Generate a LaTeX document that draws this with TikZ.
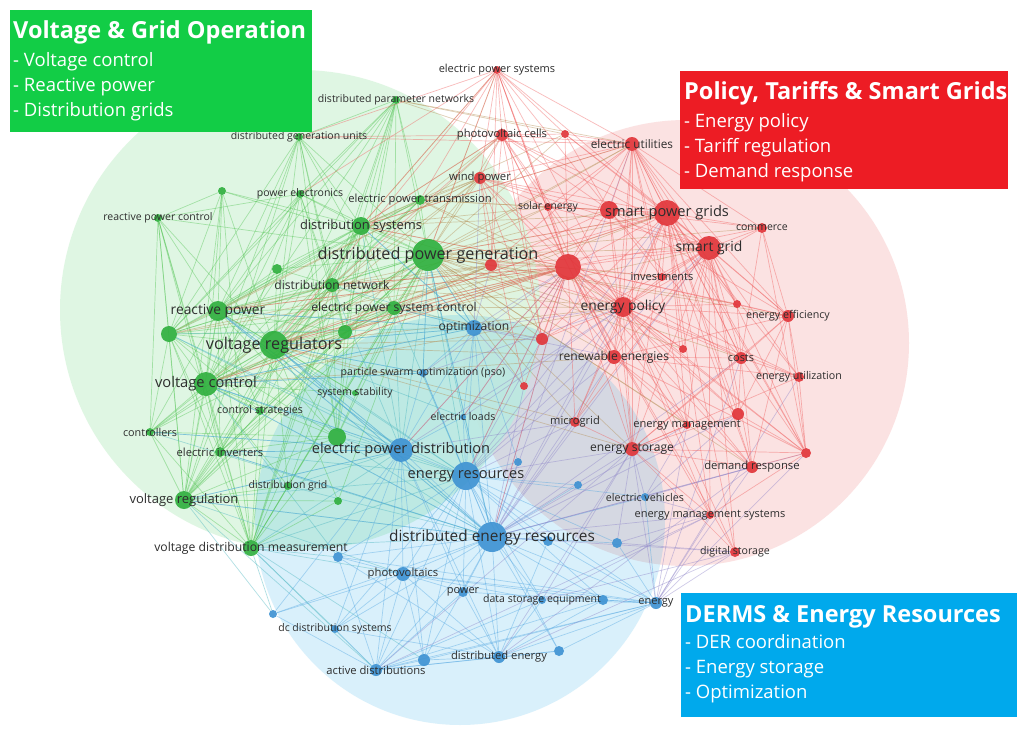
\documentclass[tikz,border=0pt]{standalone}
\usepackage{fontspec}
\setmainfont{Open Sans}
\pgfdeclarelayer{blobs}
\pgfdeclarelayer{edges}
\pgfdeclarelayer{labels}
\pgfdeclarelayer{boxes}
\pgfsetlayers{blobs,edges,main,labels,boxes}
\definecolor{gblobl}{RGB}{220,246,224}
\definecolor{rblob}{RGB}{230,50,50}
\definecolor{bblob}{RGB}{0,160,230}
\definecolor{gdotc}{RGB}{45,175,60}
\definecolor{rdotc}{RGB}{225,50,55}
\definecolor{bdotc}{RGB}{60,145,210}
\definecolor{gedge}{RGB}{80,195,80}
\definecolor{redge}{RGB}{240,90,90}
\definecolor{bedge}{RGB}{80,165,225}
\definecolor{oedge}{RGB}{180,140,80}
\definecolor{tedge}{RGB}{70,180,190}
\definecolor{pedge}{RGB}{140,130,200}
\definecolor{labc}{RGB}{45,45,45}
\definecolor{gbox}{RGB}{18,205,70}
\definecolor{rbox}{RGB}{237,28,36}
\definecolor{bbox}{RGB}{0,169,236}
\tikzset{
  dot/.style={circle, inner sep=0pt, draw=none, fill=#1, fill opacity=.9},
  kwl/.style={inner sep=0pt, text=labc, anchor=center},
  edge/.style={line width=.7pt, draw opacity=.42},
  boxbg/.style={fill=#1, draw=none, inner sep=0pt, anchor=north west},
  boxtitle/.style={anchor=base west, inner sep=0pt, text=white, font=\bfseries\fontsize{23.5}{23.5}\selectfont},
  boxline/.style={anchor=base west, inner sep=0pt, text=white, font=\fontsize{18.5}{18.5}\selectfont}
}
\newcommand\kw[7]{%
  \node[dot=#5, minimum size=#4*2pt] (#1) at (#2,#3) {};
  \begin{pgfonlayer}{labels}
  \node[kwl, font=\fontsize{#6}{#6}\selectfont] (#1-t) at (#2,#3) {#7};
  \end{pgfonlayer}}
\newcommand\dotn[5]{\node[dot=#5, minimum size=#4*2pt] (#1) at (#2,#3) {};}
\newcommand\E[3]{\foreach \tg in {#3}{\draw[edge,#1] (#2) -- (\tg);}}
\begin{document}
\begin{tikzpicture}[x=1pt,y=-1pt]
\useasboundingbox (0,0) rectangle (1031,736);
\begin{pgfonlayer}{blobs}
\fill[white] (0,0) rectangle (1031,736);
\fill[rblob, fill opacity=.14] (686,343) circle[radius=223pt];
\fill[gblobl, fill opacity=.9] (300,310) circle[radius=240pt];
\fill[bblob, fill opacity=.15] (460,520) circle[radius=205pt];
\end{pgfonlayer}
% green keywords
\kw{gdpn}{396}{100}{4}{gdotc}{10.5}{distributed parameter networks}
\kw{gdgu}{299}{137}{4}{gdotc}{10.5}{distributed generation units}
\kw{gpe}{300}{194}{4}{gdotc}{10.5}{power electronics}
\dotn{gxa}{222}{191}{4}{gdotc}
\kw{grpc}{158}{218}{4}{gdotc}{10.5}{reactive power control}
\kw{gept}{420}{200}{5}{gdotc}{11.2}{electric power transmission}
\kw{gds}{361}{226}{9}{gdotc}{12.9}{distribution systems}
\kw{gdpg}{428}{255}{16}{gdotc}{16.2}{distributed power generation}
\dotn{gxb}{277}{269}{5}{gdotc}
\kw{gdn}{332}{285}{7}{gdotc}{12.1}{distribution network}
\kw{grp}{218}{311}{10}{gdotc}{13.8}{reactive power}
\kw{geps}{394}{308}{7}{gdotc}{12.1}{electric power system control}
\dotn{gxc}{345}{332}{7}{gdotc}
\dotn{gxd}{169}{334}{8}{gdotc}
\kw{gvr}{274}{345}{14}{gdotc}{16.2}{voltage regulators}
\kw{gvc}{206}{384}{12}{gdotc}{14.7}{voltage control}
\kw{gss}{355}{393}{3}{gdotc}{10.5}{system stability}
\kw{gcs}{260}{411}{4}{gdotc}{10.6}{control strategies}
\kw{gctl}{150}{432}{4}{gdotc}{10.8}{controllers}
\dotn{gxe}{337}{437}{9}{gdotc}
\kw{gei}{220}{452}{5}{gdotc}{11.2}{electric inverters}
\kw{gdg}{288}{486}{4}{gdotc}{10.5}{distribution grid}
\dotn{gxf}{338}{501}{4}{gdotc}
\kw{gvreg}{184}{500}{9}{gdotc}{13}{voltage regulation}
\kw{gvdm}{251}{548}{8}{gdotc}{12.2}{voltage distribution measurement}
% blue keywords
\kw{bopt}{474}{328}{8}{bdotc}{12.1}{optimization}
\kw{bpso}{423}{373}{4}{bdotc}{10.6}{particle swarm optimization (pso)}
\kw{bel}{463}{417}{3}{bdotc}{10.6}{electric loads}
\kw{bepd}{401}{450}{12}{bdotc}{14.6}{electric power distribution}
\dotn{bxa}{518}{462}{4}{bdotc}
\kw{ber}{466}{476}{14}{bdotc}{14.6}{energy resources}
\dotn{bxe}{578}{485}{4}{bdotc}
\dotn{bxb}{338}{557}{5}{bdotc}
\kw{bder}{492}{537}{15}{bdotc}{15.4}{distributed energy resources}
\dotn{bxc}{548}{541}{5}{bdotc}
\dotn{bxd}{617}{543}{5}{bdotc}
\kw{bev}{645}{497}{4}{bdotc}{10.7}{electric vehicles}
\kw{bpv}{403}{574}{7}{bdotc}{11.3}{photovoltaics}
\kw{bpow}{463}{592}{5}{bdotc}{11}{power}
\kw{bdse}{542}{600}{4}{bdotc}{10.5}{data storage equipment}
\dotn{bxf}{603}{600}{5}{bdotc}
\kw{ben}{656}{603}{6}{bdotc}{11}{energy}
\dotn{bxg}{273}{614}{4}{bdotc}
\kw{bdc}{335}{629}{4}{bdotc}{10.5}{dc distribution systems}
\dotn{bxh}{559}{651}{5}{bdotc}
\dotn{bxi}{424}{660}{6}{bdotc}
\kw{bde}{499}{657}{6}{bdotc}{11.2}{distributed energy}
\kw{bad}{376}{670}{6}{bdotc}{11.2}{active distributions}
% red keywords
\kw{reps}{497}{70}{4}{rdotc}{11}{electric power systems}
\kw{rpvc}{502}{135}{6}{rdotc}{11.2}{photovoltaic cells}
\dotn{rxa}{565}{134}{4}{rdotc}
\kw{reu}{632}{144}{7}{rdotc}{11.8}{electric utilities}
\kw{rwp}{480}{178}{6}{rdotc}{11.3}{wind power}
\kw{rse}{548}{207}{4}{rdotc}{10.4}{solar energy}
\dotn{rxb}{609}{210}{9}{rdotc}
\kw{rspg}{667}{213}{13}{rdotc}{14.6}{smart power grids}
\kw{rcom}{762}{228}{5}{rdotc}{10.5}{commerce}
\kw{rsg}{709}{248}{12}{rdotc}{13.9}{smart grid}
\dotn{rxc}{491}{265}{6}{rdotc}
\dotn{rbig}{568}{267}{13}{rdotc}
\kw{rinv}{662}{277}{4}{rdotc}{11}{investments}
\kw{rep}{623}{307}{10}{rdotc}{13.8}{energy policy}
\dotn{rxd}{737}{304}{4}{rdotc}
\kw{ree}{788}{316}{6}{rdotc}{10.7}{energy efficiency}
\dotn{rxe}{542}{339}{6}{rdotc}
\dotn{rxf}{683}{349}{4}{rdotc}
\kw{rre}{614}{357}{7}{rdotc}{12.1}{renewable energies}
\kw{rcost}{741}{358}{6}{rdotc}{10.9}{costs}
\kw{reut}{799}{377}{5}{rdotc}{10.7}{energy utilization}
\dotn{rxg}{524}{386}{4}{rdotc}
\kw{rmg}{575}{422}{5}{rdotc}{11.1}{microgrid}
\kw{rem}{687}{425}{4}{rdotc}{11.1}{energy management}
\dotn{rxh}{738}{414}{6}{rdotc}
\kw{res}{632}{449}{7}{rdotc}{12.1}{energy storage}
\dotn{rxi}{806}{453}{5}{rdotc}
\kw{rdr}{752}{467}{6}{rdotc}{11.3}{demand response}
\kw{rems}{710}{515}{4}{rdotc}{11}{energy management systems}
\kw{rds}{735}{552}{5}{rdotc}{10.6}{digital storage}
% connectors
\begin{pgfonlayer}{edges}
\E{gedge}{gdpg}{gdpn,gdgu,gpe,gxa,grpc,gept,gds,gxb,gdn,grp,geps,gxc,gxd,gvr,gvc,gss,gcs,gctl,gxe,gei,gdg,gxf,gvreg,gvdm}
\E{gedge}{gvr}{gdpn,gdgu,gpe,gxa,grpc,gept,gds,gxb,gdn,grp,geps,gxc,gxd,gvc,gss,gcs,gctl,gxe,gei,gdg,gxf,gvreg,gvdm}
\E{gedge}{gvc}{gdpn,gdgu,gpe,gxa,grpc,gds,gxb,gdn,grp,geps,gxc,gxd,gcs,gctl,gxe,gei,gdg,gvreg,gvdm,gept,gss}
\E{gedge}{grp}{gdpn,gdgu,gpe,gxa,grpc,gept,gds,gxb,gdn,geps,gxc,gxd,gctl,gxe,gei,gvreg,gvdm,gcs,gss}
\E{gedge}{gxd}{gdpn,gdgu,gpe,gxa,grpc,gds,gdn,geps,gxc,gctl,gei,gvreg,gvdm,gcs,gept,gxe}
\E{gedge}{gds}{gdpn,gdgu,gpe,gxa,gept,gdn,geps,gxc,gxe,gvreg,gvdm,gei,gxb,gcs}
\E{gedge}{gvreg}{gdgu,gpe,grpc,gdn,geps,gxc,gctl,gei,gxe,gvdm,gcs,gdg,gxa,gxf}
\E{gedge}{gvdm}{gxa,grpc,gdn,geps,gxc,gctl,gei,gxe,gdg,gxf,gdpn,gcs}
\E{gedge}{gdn}{gdpn,gdgu,gpe,gept,geps,gxc,gxe,gei,gxb,gctl}
\E{gedge}{geps}{gdpn,gept,gxc,gxe,gei,gdgu,gctl}
\E{gedge}{gxc}{gdgu,gpe,gxe,gei,gdg,gdpn}
\E{gedge}{gxe}{gdgu,gpe,gei,gctl,gdpn}
\E{gedge}{gdpn}{gdgu,gpe,gept}
\E{gedge}{grpc}{gxa,gpe,gctl,gei}
\E{oedge}{gdpn}{reu,rxa,rpvc}
\E{oedge}{gept}{rwp,rxb,rbig,rpvc,rep,rse}
\E{oedge}{gdpg}{rwp,reps,rpvc,rse,rxc,rbig,rep,rspg,reu,rxe,rre,rmg,rsg,rxb,rinv,rcost,res,rdr,ree,rcom,rxa,rxf,rxg,rem,rxd}
\E{oedge}{gvr}{rbig,rep,rxc,rwp,rspg,rre,rxe,reu,rsg,rmg,res,rpvc,rse}
\E{oedge}{gds}{rwp,rpvc,rxc,rbig,reps,rse,rspg,reu,rxa}
\E{oedge}{gvc}{rbig,rep,rxc,rwp,rspg,rre}
\E{oedge}{grp}{rbig,rxc,rwp,rspg}
\E{oedge}{gdn}{rbig,rep,rxc}
\E{oedge}{geps}{rbig,rep,rxc,rxe}
\E{oedge}{gxc}{rbig,rxc,rwp}
\E{oedge}{gxd}{rbig,rxc,rwp}
\E{tedge}{gdpg}{bopt,bpso,bepd,ber,bder,bel}
\E{tedge}{gvr}{bepd,ber,bder,bopt,bpso,bel}
\E{tedge}{gvc}{bepd,ber,bder,bxb,bpso,bopt}
\E{tedge}{grp}{bepd,ber,bopt,bder}
\E{tedge}{gvdm}{bder,bxb,bpv,bdc,bad,bxg,bxi,bepd,ber}
\E{tedge}{gvreg}{bder,bepd,bxg,bad,bpv,ber}
\E{tedge}{gxe}{bepd,ber,bder}
\E{tedge}{gei}{bepd,bder,ber}
\E{tedge}{gxd}{bepd,ber,bopt}
\E{tedge}{gds}{bopt,bepd}
\E{tedge}{geps}{bopt,bepd,ber}
\E{tedge}{gdn}{bopt,bepd}
\E{tedge}{gctl}{bepd,bder}
\E{tedge}{gdg}{bder,bepd}
\E{bedge}{bder}{bopt,bpso,bel,bepd,bxa,ber,bxe,bxb,bxc,bxd,bev,bpv,bpow,bdse,bxf,ben,bxg,bdc,bxh,bxi,bde,bad}
\E{bedge}{ber}{bopt,bpso,bel,bepd,bxa,bxe,bxb,bxc,bxd,bev,bpv,bpow,bdse,bxf,ben,bdc,bxh,bxi,bde,bad}
\E{bedge}{bepd}{bopt,bpso,bel,bxb,bpv,bpow,bdc,bad,bxi,bde,bxg}
\E{bedge}{bad}{bxb,bpv,bpow,bdse,bxf,ben,bxg,bdc,bxi,bde,bxh}
\E{bedge}{bde}{bxb,bpv,bpow,bdse,bxf,ben,bdc,bxi,bxh,bxc}
\E{bedge}{ben}{bxb,bpv,bpow,bdse,bxf,bxc,bxd,bxh,bxi,bev}
\E{bedge}{bpv}{bxb,bpow,bdse,bxg,bdc,bxi,bxf}
\E{bedge}{bopt}{bpso,bel,bxa}
\E{bedge}{bopt}{gdpg,gvr,gvc,grp,gds,geps}
\E{bedge}{bepd}{gvr,gvc,grp,gvreg,gei,gctl}
\E{bedge}{bder}{gvc,gvr,grp,gdpg,gvreg,gei}
\E{bedge}{bpso}{gvr,gvc,gdpg}
\E{pedge}{bopt}{rbig,rep,rxe,rre,rxg,rxc,rwp}
\E{pedge}{bder}{res,rmg,rem,rems,rds,rdr,rbig,rep,rxg,rre,rspg,rsg,reu,rcost,rxh,rxi}
\E{pedge}{ber}{res,rmg,rbig,rep,rre,rxe,rspg,rsg}
\E{pedge}{ben}{rems,rds,rdr,res,rxi,rcost,reut,rem}
\E{pedge}{bev}{res,rem,rems,rdr,rxh}
\E{pedge}{bxd}{res,rems,rds}
\E{pedge}{bepd}{rbig,rep,rmg}
\E{pedge}{bad}{res,rems}
\E{pedge}{bde}{res,rds,rdr}
\E{pedge}{bdse}{res,rems,rds}
\E{pedge}{bpso}{rbig,rep}
\E{pedge}{bel}{rbig,rep}
\E{redge}{rbig}{reps,rpvc,rxa,reu,rwp,rse,rxb,rspg,rcom,rsg,rxc,rinv,rep,rxd,ree,rxe,rxf,rre,rcost,reut,rxg,rmg,rem,rxh,res,rxi,rdr,rems,rds}
\E{redge}{rspg}{reps,rpvc,rxa,reu,rwp,rse,rxb,rcom,rsg,rxc,rinv,rep,rxd,ree,rxe,rxf,rre,rcost,reut,rmg,rem,rxh,res,rxi,rdr,rems,rds}
\E{redge}{rsg}{rpvc,rxa,reu,rwp,rse,rxb,rcom,rxc,rinv,rep,rxd,ree,rxe,rxf,rre,rcost,reut,rmg,rem,rxh,res,rxi,rdr,rems,rds}
\E{redge}{rep}{reps,rpvc,reu,rwp,rse,rxb,rcom,rxc,rinv,rxd,ree,rxe,rxf,rre,rcost,reut,rmg,rem,rxh,res,rxi,rdr,rems,rds}
\E{redge}{reu}{reps,rpvc,rxa,rwp,rse,rxb,rcom,rxc,rinv,ree,rre,rcost,res,rdr,rxi,rxd,rem}
\E{redge}{rxb}{reps,rpvc,rwp,rse,rxc,rinv,ree,rcost,res,rcom,rxa}
\E{redge}{rre}{rpvc,rwp,rse,rxc,rcost,res,rmg,rem,rdr,reut,ree,rxi}
\E{redge}{res}{rmg,rem,rxh,rdr,rems,rds,rcost,ree,reut,rxi}
\E{redge}{rcost}{ree,reut,rxh,rdr,rxi,rcom,rxd}
\E{redge}{ree}{rcom,rxd,reut,rxh,rxi,rdr}
\E{redge}{rpvc}{reps,rxa,rwp,rse,rxc,rxe}
\E{redge}{reps}{rwp,rxa,rse,rxc,rbig,rxe}
\E{redge}{rwp}{rse,rxc,rxe,rxg}
\E{redge}{rxi}{reut,rxh,rdr,rems,rcom}
\E{redge}{rbig}{gvr,gvc,grp,gds,gdn,geps,gxc}
\E{redge}{rspg}{gdpg,gvr}
\E{redge}{reu}{gds,gdgu}
\E{redge}{rpvc}{gdgu,gds,gdn}
\E{redge}{reps}{gdgu,gds,gpe,gdpg,gvr,gept}
\E{redge}{rbig}{bder,ber,bepd,bel}
\end{pgfonlayer}
% legend boxes
\begin{pgfonlayer}{boxes}
\node[boxbg=gbox, minimum width=302pt, minimum height=122pt] (gbx) at (10,10) {};
\node[boxtitle] (gbt) at (13,38) {Voltage \& Grid Operation};
\node[boxline] (gb1) at (13,66) {- Voltage control};
\node[boxline] (gb2) at (13,91) {- Reactive power};
\node[boxline] (gb3) at (13,116) {- Distribution grids};
\node[boxbg=rbox, minimum width=328pt, minimum height=118pt] (rbx) at (680,71) {};
\node[boxtitle] (rbt) at (684,99) {Policy, Tariffs \& Smart Grids};
\node[boxline] (rb1) at (684,127) {- Energy policy};
\node[boxline] (rb2) at (684,152) {- Tariff regulation};
\node[boxline] (rb3) at (684,177) {- Demand response};
\node[boxbg=bbox, minimum width=336pt, minimum height=124pt] (bbx) at (681,593) {};
\node[boxtitle] (bbt) at (685,622) {DERMS \& Energy Resources};
\node[boxline] (bb1) at (685,648) {- DER coordination};
\node[boxline] (bb2) at (685,673) {- Energy storage};
\node[boxline] (bb3) at (685,698) {- Optimization};
\end{pgfonlayer}
\end{tikzpicture}
\end{document}
